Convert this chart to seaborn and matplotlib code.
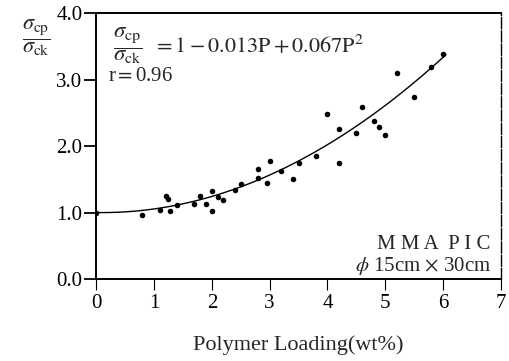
import numpy as np
import pandas as pd
import matplotlib
matplotlib.use("Agg")
import matplotlib.pyplot as plt
import seaborn as sns

# Data
loading = [0.0, 0.8, 1.1, 1.2, 1.25, 1.28, 1.4, 1.7, 1.8, 1.9, 2.0, 2.0, 2.1, 2.2,
           2.4, 2.5, 2.8, 2.8, 2.95, 3.0, 3.2, 3.4, 3.5, 3.8, 4.0, 4.2, 4.2, 4.5,
           4.6, 4.8, 4.9, 5.0, 5.2, 5.5, 5.8, 6.0]
ratio = [1.0, 0.96, 1.04, 1.25, 1.2, 1.03, 1.12, 1.13, 1.25, 1.13, 1.32, 1.02, 1.24, 1.19,
         1.34, 1.43, 1.65, 1.52, 1.45, 1.78, 1.62, 1.5, 1.75, 1.85, 2.48, 2.25, 1.74, 2.2,
         2.58, 2.38, 2.28, 2.17, 3.1, 2.73, 3.19, 3.38]
# regression coefficients printed on the chart
coef_c0, coef_c1, coef_c2 = 1.0, -0.013, 0.067
x_ticks = [0, 1, 2, 3, 4, 5, 6, 7]
y_ticks = [0.0, 1.0, 2.0, 3.0, 4.0]
y_tick_labels = ["0.0", "1.0", "2.0", "3.0", "4.0"]

sns.set_theme(style="ticks")
plt.rcParams['font.family'] = ['Liberation Serif', 'DejaVu Serif']
plt.rcParams['mathtext.fontset'] = 'stix'

fig = plt.figure(figsize=(5.09, 3.61), dpi=100)
ax = fig.add_axes([0.189, 0.227, 0.795, 0.737])

df = pd.DataFrame({"P": loading, "R": ratio})
sns.scatterplot(data=df, x="P", y="R", ax=ax, color="black", s=16,
                edgecolor="black", linewidth=0, zorder=3)

xs = np.linspace(0, 6.05, 120)
fit = pd.DataFrame({"P": xs, "R": coef_c0 + coef_c1 * xs + coef_c2 * xs ** 2})
sns.lineplot(data=fit, x="P", y="R", ax=ax, color="black", linewidth=1.0, zorder=2)

ax.set_xlim(0, 7)
ax.set_ylim(0, 4.0)
ax.set_xticks(x_ticks)
ax.set_xticklabels([str(t) for t in x_ticks], fontsize=15)
ax.set_yticks(y_ticks)
ax.set_yticklabels(y_tick_labels, fontsize=15)
ax.tick_params(axis='y', direction='out', length=9, width=1.3, colors='black', pad=1)
ax.tick_params(axis='x', direction='out', length=8, width=0.8, colors='black', pad=3)

for side in ['left', 'bottom', 'top']:
    ax.spines[side].set_linewidth(1.4)
    ax.spines[side].set_color('black')
ax.spines['right'].set_linewidth(1.0)
ax.spines['right'].set_linestyle((0, (8, 1.5)))
ax.spines['right'].set_color('black')

ax.set_xlabel("Polymer Loading(wt%)", fontsize=16, labelpad=16)
ax.set_ylabel("")

fig.text(0.072, 0.895, r"$\dfrac{\sigma_{\rm cp}}{\sigma_{\rm ck}}$", fontsize=16,
         ha='center', va='center')

ax.text(0.079, 0.876, r"$\dfrac{\sigma_{\rm cp}}{\sigma_{\rm ck}}$", fontsize=16.5,
        transform=ax.transAxes, ha='center', va='center')
ax.text(0.14, 0.876, r"$=1-0.013\mathrm{P}+0.067\mathrm{P}^2$", fontsize=16,
        transform=ax.transAxes, ha='left', va='center')
ax.text(0.03, 0.762, r"r$=$0.96", fontsize=15, transform=ax.transAxes,
        ha='left', va='center')

ax.text(0.975, 0.128, "M M A  P I C", fontsize=15, transform=ax.transAxes,
        ha='right', va='center')
ax.text(0.978, 0.049, r"$\phi$ 15cm $\times$ 30cm", fontsize=15, transform=ax.transAxes,
        ha='right', va='center')

fig.savefig("out.png", dpi=100, facecolor='white')
